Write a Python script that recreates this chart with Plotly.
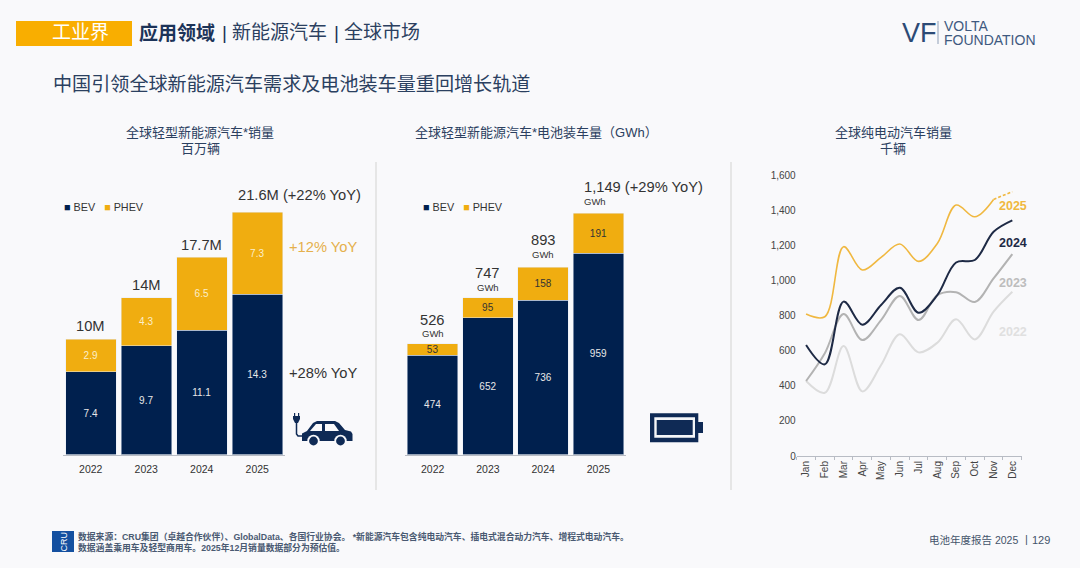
import plotly.graph_objects as go

years = ['2022', '2023', '2024', '2025']
sales_bev = [7.4, 9.7, 11.1, 14.3]
sales_phev = [2.9, 4.3, 6.5, 7.3]
sales_totals = ['10M', '14M', '17.7M', '21.6M (+22% YoY)']
gwh_bev = [474, 652, 736, 959]
gwh_phev = [53, 95, 158, 191]
gwh_totals = ['526', '747', '893', '1,149 (+29% YoY)']

months = ['Jan', 'Feb', 'Mar', 'Apr', 'May', 'Jun', 'Jul', 'Aug', 'Sep', 'Oct', 'Nov', 'Dec']
bev_2022 = [427, 360, 626, 368, 518, 693, 590, 645, 778, 664, 822, 935]
bev_2023 = [427, 585, 808, 660, 774, 911, 774, 916, 933, 877, 1011, 1150]
bev_2024 = [632, 522, 879, 748, 860, 958, 816, 916, 1102, 1116, 1277, 1342]
bev_2025 = [808, 793, 1192, 1059, 1131, 1207, 1108, 1210, 1429, 1362, 1461, None]
bev_2025_est = [None, None, None, None, None, None, None, None, None, None, 1461, 1505]

W, H = 1080, 568
FONT = 'Liberation Sans, Noto Sans CJK SC, sans-serif'
BG = '#f9f9fb'
NAVY = '#00204e'
AMBER = '#f0ad10'
HEAD = '#2b4060'
DARK = '#333333'


def px(x):
    return x / W


def py(y):
    return 1 - y / H


def txt(x, y, text, size, color, anchor='center', **kw):
    return dict(x=px(x), y=py(y), xref='paper', yref='paper', text=text, showarrow=False,
                xanchor=anchor, yanchor='middle', align=anchor if anchor != 'center' else 'center',
                borderpad=0, borderwidth=0,
                font=dict(size=size, color=color, family=FONT), **kw)


def box(x0, y0, x1, y1, fill):
    return dict(type='rect', xref='paper', yref='paper', x0=px(x0), x1=px(x1), y0=py(y0), y1=py(y1),
                fillcolor=fill, line_width=0, layer='above')


def circle(cx, cy, r, fill):
    return box(cx - r, cy - r, cx + r, cy + r, fill) | dict(type='circle')


def path(points, fill=None, line=None, width=0, close=True):
    # points are page pixels, plotly wants a command letter per point
    parts = [('M' if i == 0 else 'L') + f'{px(p[0]):.5f},{py(p[1]):.5f}' for i, p in enumerate(points)]
    if close:
        parts.append('Z')
    return dict(type='path', xref='paper', yref='paper', path=' '.join(parts),
                fillcolor=fill if fill else 'rgba(0,0,0,0)',
                line=dict(color=line if line else 'rgba(0,0,0,0)', width=width), layer='above')


fig = go.Figure()

# left chart
fig.add_bar(x=years, y=sales_bev, name='BEV', marker_color=NAVY, text=sales_bev, xaxis='x', yaxis='y',
            textposition='inside', insidetextanchor='middle', textangle=0, constraintext='none',
            textfont=dict(color='#e8e8e8', size=10, family=FONT))
fig.add_bar(x=years, y=sales_phev, name='PHEV', marker_color=AMBER, text=sales_phev, xaxis='x', yaxis='y',
            textposition='inside', insidetextanchor='middle', textangle=0, constraintext='none',
            textfont=dict(color='#fbeecb', size=10, family=FONT))

# middle chart
fig.add_bar(x=years, y=gwh_bev, name='BEV', marker_color=NAVY, text=gwh_bev, xaxis='x2', yaxis='y2',
            textposition='inside', insidetextanchor='middle', textangle=0, constraintext='none',
            textfont=dict(color='#e8e8e8', size=10, family=FONT))
fig.add_bar(x=years, y=gwh_phev, name='PHEV', marker_color=AMBER, text=gwh_phev, xaxis='x2', yaxis='y2',
            textposition='inside', insidetextanchor='middle', textangle=0, constraintext='none',
            textfont=dict(color='#333333', size=10, family=FONT))

# right chart
line_series = [('2022', bev_2022, '#dcdcdc', 2, 'solid'),
               ('2023', bev_2023, '#b3b3b3', 2, 'solid'),
               ('2024', bev_2024, '#1e2a45', 2, 'solid'),
               ('2025', bev_2025, '#f0b840', 1.6, 'solid'),
               ('2025 est', bev_2025_est, '#f0b840', 1.6, '3px,2px')]
for name, vals, color, width, dash in line_series:
    fig.add_scatter(x=months, y=vals, name=name, mode='lines', xaxis='x3', yaxis='y3',
                    line=dict(color=color, width=width, dash=dash, shape='spline', smoothing=1.0))

notes = []

# header
notes.append(txt(80, 33, '工业界', 19, '#ffffff'))
notes.append(txt(139, 33, '<b>应用领域</b>', 19, '#1c3358', 'left'))
notes.append(txt(224.5, 32, '|', 19, '#1c3358'))
notes.append(txt(232, 33, '新能源汽车', 19, HEAD, 'left'))
notes.append(txt(336.5, 32, '|', 19, '#1c3358'))
notes.append(txt(344, 33, '全球市场', 19, HEAD, 'left'))
notes.append(txt(53, 85, '中国引领全球新能源汽车需求及电池装车量重回增长轨道', 19.1, HEAD, 'left'))

# logo
notes.append(txt(902, 33, 'VF', 27, '#2c4a75', 'left'))
notes.append(txt(944, 26, 'VOLTA', 14, '#3f5a80', 'left'))
notes.append(txt(944, 40, 'FOUNDATION', 14, '#3f5a80', 'left'))

# chart titles
notes.append(txt(200, 132, '全球轻型新能源汽车*销量', 13, HEAD))
notes.append(txt(200, 148, '百万辆', 13, HEAD))
notes.append(txt(536, 132, '全球轻型新能源汽车*电池装车量（GWh）', 13, HEAD))
notes.append(txt(893, 132, '全球纯电动汽车销量', 13, HEAD))
notes.append(txt(893, 148, '千辆', 13, HEAD))

# legends
legend = f'<span style="color:{NAVY}">■</span> BEV   <span style="color:{AMBER}">■</span> PHEV'
notes.append(txt(64, 207, legend, 10.8, DARK, 'left'))
notes.append(txt(423, 207, legend, 10.8, DARK, 'left'))

# totals above the bars, x is the category index since '2022' would read as a position
sales_shift = [13, 12.5, 12, 17]
for i in range(len(years)):
    total = sales_bev[i] + sales_phev[i]
    last = i == 3
    notes.append(dict(x=i, y=total, xref='x', yref='y', text=sales_totals[i], showarrow=False,
                      xanchor='left' if last else 'center', xshift=-19 if last else 0,
                      yanchor='middle', yshift=sales_shift[i], borderpad=0, borderwidth=0,
                      font=dict(size=14.7, color=DARK, family=FONT)))

gwh_shift = [(24, 10), (25, 10), (27, 13), (26, 12)]
for i in range(len(years)):
    total = gwh_bev[i] + gwh_phev[i]
    last = i == 3
    notes.append(dict(x=i, y=total, xref='x2', yref='y2', text=gwh_totals[i], showarrow=False,
                      xanchor='left' if last else 'center', xshift=-14 if last else 0,
                      yanchor='middle', yshift=gwh_shift[i][0], borderpad=0, borderwidth=0,
                      font=dict(size=14.7, color=DARK, family=FONT)))
    notes.append(dict(x=i, y=total, xref='x2', yref='y2', text='GWh', showarrow=False,
                      xanchor='left' if last else 'center', xshift=-14 if last else 0,
                      yanchor='middle', yshift=gwh_shift[i][1], borderpad=0, borderwidth=0,
                      font=dict(size=9.5, color=DARK, family=FONT)))

notes.append(txt(289, 247, '+12% YoY', 14.7, '#e5b04c', 'left'))
notes.append(txt(289, 373, '+28% YoY', 14.7, DARK, 'left'))

# line labels
notes.append(txt(1013, 206, '<b>2025</b>', 12.5, '#f0b840'))
notes.append(txt(1013, 243, '<b>2024</b>', 12.5, '#1e2a45'))
notes.append(txt(1013, 283, '<b>2023</b>', 12.5, '#bdbdbd'))
notes.append(txt(1013, 332, '<b>2022</b>', 12.5, '#e0e0e0'))

# footer
notes.append(txt(63, 541.5, 'CRU', 9, '#ffffff', textangle=-90))
notes.append(txt(78, 536, '<b>数据来源：CRU集团（卓越合作伙伴）、GlobalData、各国行业协会。 *新能源汽车包含纯电动汽车、插电式混合动力汽车、增程式电动汽车。</b>', 8.8, '#4a5a72', 'left'))
notes.append(txt(78, 547, '<b>数据涵盖乘用车及轻型商用车。2025年12月销量数据部分为预估值。</b>', 8.8, '#4a5a72', 'left'))
notes.append(txt(929, 540, '电池年度报告 2025', 10.5, '#44546a', 'left'))
notes.append(txt(1026, 539, '|', 11, '#44546a'))
notes.append(txt(1032, 540, '129', 11, '#44546a', 'left'))

ICON = '#0f2a55'
shapes = [
    box(16, 21, 132, 46, '#f9ae00'),
    box(375, 162, 377, 490, '#e6e6e6'),
    box(730, 162, 732, 490, '#e6e6e6'),
    box(937.5, 21, 938.5, 44, '#8fa0b8'),
    box(52, 531, 74, 552, '#1450a0'),
    # car
    path([(302, 441), (302, 433.5), (307, 431), (313, 423), (317, 421), (335, 421), (339, 423),
          (345, 430), (351, 431.5), (352.5, 434), (352.5, 441)], fill=ICON),
    path([(310, 431), (316, 424), (322, 424), (322, 431)], fill=BG),
    path([(325, 424), (334, 424), (339, 431), (325, 431)], fill=BG),
    circle(313.5, 441, 6.2, BG),
    circle(313.5, 441, 4.4, ICON),
    circle(340.5, 441, 6.2, BG),
    circle(340.5, 441, 4.4, ICON),
    path([(296.5, 422), (296.5, 434), (298, 436), (303, 436)], line=ICON, width=1.5, close=False),
    path([(293, 416), (300, 416), (300, 419), (298, 423), (295, 423), (293, 419)], fill=ICON),
    box(294, 413, 295.2, 416, ICON),
    box(298, 413, 299.2, 416, ICON),
    # battery
    box(650, 413.3, 698.3, 442.3, ICON),
    box(698, 422, 703, 433, ICON),
    box(654.3, 417.3, 695, 437.7, '#f4f6f8'),
    box(656.7, 420, 692.7, 435, ICON),
]

tick_font = dict(size=10.5, color=DARK, family=FONT)
fig.update_layout(
    width=W, height=H, margin=dict(l=0, r=0, t=0, b=0, pad=0, autoexpand=False),
    paper_bgcolor=BG, plot_bgcolor=BG, barmode='stack', bargap=0.09, showlegend=False,
    font=dict(family=FONT),
    annotations=notes, shapes=shapes,
    xaxis=dict(domain=[px(63), px(285)], anchor='y', type='category', range=[-0.5, 3.5], showline=True,
               linecolor='#b8bcc4', linewidth=1, ticks='', tickfont=tick_font, ticklabelstandoff=5,
               showgrid=False, fixedrange=True),
    yaxis=dict(domain=[py(454.5), py(180)], anchor='x', range=[0, 24.48], visible=False, fixedrange=True),
    xaxis2=dict(domain=[px(405), px(626)], anchor='y2', type='category', range=[-0.5, 3.5], showline=True,
                linecolor='#b8bcc4', linewidth=1, ticks='', tickfont=tick_font, ticklabelstandoff=5,
                showgrid=False, fixedrange=True),
    yaxis2=dict(domain=[py(454.5), py(180)], anchor='x2', range=[0, 1309], visible=False, fixedrange=True),
    xaxis3=dict(domain=[px(796.7), px(1021.7)], anchor='y3', type='category', range=[-0.5, 11.5], showline=True,
                linecolor='#b8bcc4', linewidth=1, ticks='outside', ticklen=3, tickcolor='#b8bcc4',
                tickson='boundaries', tickangle=-90, showgrid=False,
                tickfont=dict(size=10, color='#444444', family=FONT), fixedrange=True),
    yaxis3=dict(domain=[py(456), py(175)], anchor='x3', range=[0, 1600], dtick=200, tickformat=',',
                showgrid=False, zeroline=False, showline=False, ticks='',
                tickfont=dict(size=10, color='#444444', family=FONT), fixedrange=True),
)

fig.write_html('out.html', config={'displayModeBar': False}, post_script='document.body.style.margin = 0;')
